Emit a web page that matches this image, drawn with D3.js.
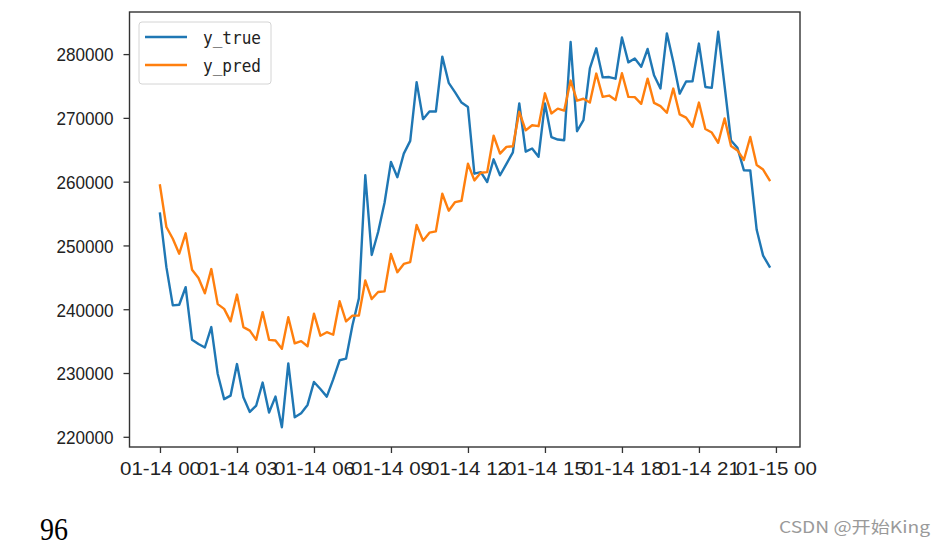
<!DOCTYPE html>
<html>
<head>
<meta charset="utf-8">
<script src="https://cdn.jsdelivr.net/npm/d3@7"></script>
<style>
  html, body { margin: 0; padding: 0; background: #fff; }
  svg { display: block; }
</style>
</head>
<body>
<script>
// ---- data ----
const startTime = new Date(2000, 0, 14, 0, 0);   // 01-14 00:00
const stepMinutes = 15;
const seriesNames = ["y_true", "y_pred"];
const seriesColors = ["#1f77b4", "#ff7f0e"];
const yTrue = [
  255000, 246600, 240600, 240700, 243450, 235200, 234550, 234000, 237200, 229850,
  225900, 226450, 231400, 226200, 223900, 224900, 228500, 223800, 226300, 221500,
  231500, 223050, 223700, 225000, 228600, 227500, 226300, 229000, 232000, 232250,
  237500, 241700, 261000, 248500, 252100, 256700, 263100, 260700, 264400, 266400,
  275600, 269800, 271000, 271000, 279600, 275500, 274000, 272400, 271700, 261250,
  261500, 259950, 263500, 261000, 262800, 264600, 272250, 264700, 265200, 263900,
  272250, 267000, 266600, 266500, 281900, 267900, 269650, 277750, 280900, 276350,
  276400, 276150, 282600, 278700, 279300, 278000, 280800, 276700, 274600, 283250,
  278800, 273800, 275700, 275750, 281650, 274850, 274700, 283500, 275000, 266450,
  265300, 261800, 261750, 252450, 248400, 246700
];
const yPred = [
  259400, 252900, 251050, 248700, 251900, 246200, 244900, 242500, 246300, 240800,
  240050, 238100, 242300, 237200, 236650, 235200, 239550, 235200, 235100, 233800,
  238750, 234650, 235000, 234200, 239300, 235850, 236400, 236000, 241250, 238100,
  239000, 239000, 244500, 241600, 242700, 242800, 248650, 245800, 247100, 247400,
  253200, 250750, 252000, 252200, 258100, 255450, 256800, 257000, 262800, 260200,
  261400, 261500, 267200, 264400, 265450, 265550, 270950, 268050, 268850, 268700,
  273850, 270700, 271450, 271150, 275850, 272700, 273000, 272400, 276950, 273300,
  273500, 272800, 277000, 273300, 273250, 272200, 276150, 272350, 271850, 270800,
  274600, 270550, 270050, 268600, 272400, 268250, 267700, 266100, 269900, 265600,
  264900, 263400, 267000, 262600, 261900, 260250
];
const yTickValues = [220000, 230000, 240000, 250000, 260000, 270000, 280000];
const xTickHours = 3;
const xTickFormat = "%m-%d %H";
const footNote = "96";
const watermark = "CSDN @开始King";

// ---- layout ----
const W = 944, H = 546;
const frame = { left: 129.5, right: 800, top: 12, bottom: 447 };

const times = yTrue.map((_, i) => d3.timeMinute.offset(startTime, i * stepMinutes));
const n = times.length;
const marginMs = 0.05 * (times[n - 1] - times[0]);
const yAll = yTrue.concat(yPred);
const yMin = d3.min(yAll), yMax = d3.max(yAll);
const yMargin = 0.05 * (yMax - yMin);

const x = d3.scaleTime()
  .domain([new Date(+times[0] - marginMs), new Date(+times[n - 1] + marginMs)])
  .range([frame.left, frame.right]);
const y = d3.scaleLinear()
  .domain([yMin - yMargin, yMax + yMargin])
  .range([frame.bottom, frame.top]);

const svg = d3.select("body").append("svg").attr("width", W).attr("height", H);
const FONT = "'Liberation Sans', 'DejaVu Sans', sans-serif";

// lines
const line = d3.line().x((d, i) => x(times[i])).y(d => y(d));
[yTrue, yPred].forEach((s, k) => {
  svg.append("path")
    .datum(s)
    .attr("d", line)
    .attr("fill", "none")
    .attr("stroke", seriesColors[k])
    .attr("stroke-width", 2.4)
    .attr("stroke-linejoin", "round")
    .attr("stroke-linecap", "square");
});

// axes
const xTicks = d3.timeHour.every(xTickHours).range(times[0], d3.timeMinute.offset(times[n - 1], stepMinutes + 1));
const xAxis = d3.axisBottom(x).tickValues(xTicks).tickFormat(d3.timeFormat(xTickFormat))
  .tickSize(6).tickPadding(8).tickSizeOuter(0);
const gx = svg.append("g").attr("transform", `translate(0,${frame.bottom})`).call(xAxis);
gx.select(".domain").remove();
gx.selectAll(".tick line").attr("stroke", "#333").attr("stroke-width", 1.3);
gx.selectAll(".tick text")
  .attr("y", 21)
  .attr("dy", "0.36em")
  .attr("fill", "#222")
  .style("font-family", FONT)
  .style("font-size", "19px")
  .attr("textLength", 81)
  .attr("lengthAdjust", "spacingAndGlyphs");

const yAxis = d3.axisLeft(y).tickValues(yTickValues).tickFormat(d3.format("d"))
  .tickSize(6).tickPadding(10).tickSizeOuter(0);
const gy = svg.append("g").attr("transform", `translate(${frame.left},0)`).call(yAxis);
gy.select(".domain").remove();
gy.selectAll(".tick line").attr("stroke", "#333").attr("stroke-width", 1.3);
gy.selectAll(".tick text")
  .attr("x", -16)
  .attr("dy", "0.36em")
  .attr("fill", "#222")
  .style("font-family", FONT)
  .style("font-size", "19px")
  .attr("textLength", 57)
  .attr("lengthAdjust", "spacingAndGlyphs");

// frame
svg.append("rect")
  .attr("x", frame.left).attr("y", frame.top)
  .attr("width", frame.right - frame.left).attr("height", frame.bottom - frame.top)
  .attr("fill", "none").attr("stroke", "#333").attr("stroke-width", 1.4);

// legend
const lg = svg.append("g");
lg.append("rect")
  .attr("x", 139).attr("y", 22).attr("width", 132).attr("height", 62).attr("rx", 3)
  .attr("fill", "#fff").attr("fill-opacity", 0.8)
  .attr("stroke", "#d4d4d4").attr("stroke-width", 1);
seriesNames.forEach((name, k) => {
  const cy = 37 + k * 28;
  lg.append("line").attr("x1", 145).attr("x2", 187).attr("y1", cy).attr("y2", cy)
    .attr("stroke", seriesColors[k]).attr("stroke-width", 2.4);
  lg.append("text").attr("x", 203).attr("y", cy + 1).attr("dy", "0.36em")
    .attr("fill", "#222")
    .style("font-family", "'DejaVu Sans Mono', 'Liberation Mono', monospace")
    .style("font-size", "17px")
    .attr("textLength", 58).attr("lengthAdjust", "spacingAndGlyphs")
    .text(name);
});

// footnote & watermark
svg.append("text").attr("x", 40).attr("y", 540)
  .style("font-family", "'Liberation Serif', 'DejaVu Serif', serif")
  .style("font-size", "31px")
  .attr("fill", "#000")
  .attr("textLength", 28).attr("lengthAdjust", "spacingAndGlyphs")
  .text(footNote);
svg.append("text").attr("x", 779).attr("y", 533)
  .style("font-family", "'Noto Sans CJK SC', 'Liberation Sans', sans-serif")
  .style("font-size", "16px")
  .attr("fill", "#9a9a9a")
  .attr("textLength", 151).attr("lengthAdjust", "spacingAndGlyphs")
  .text(watermark);
</script>
</body>
</html>
